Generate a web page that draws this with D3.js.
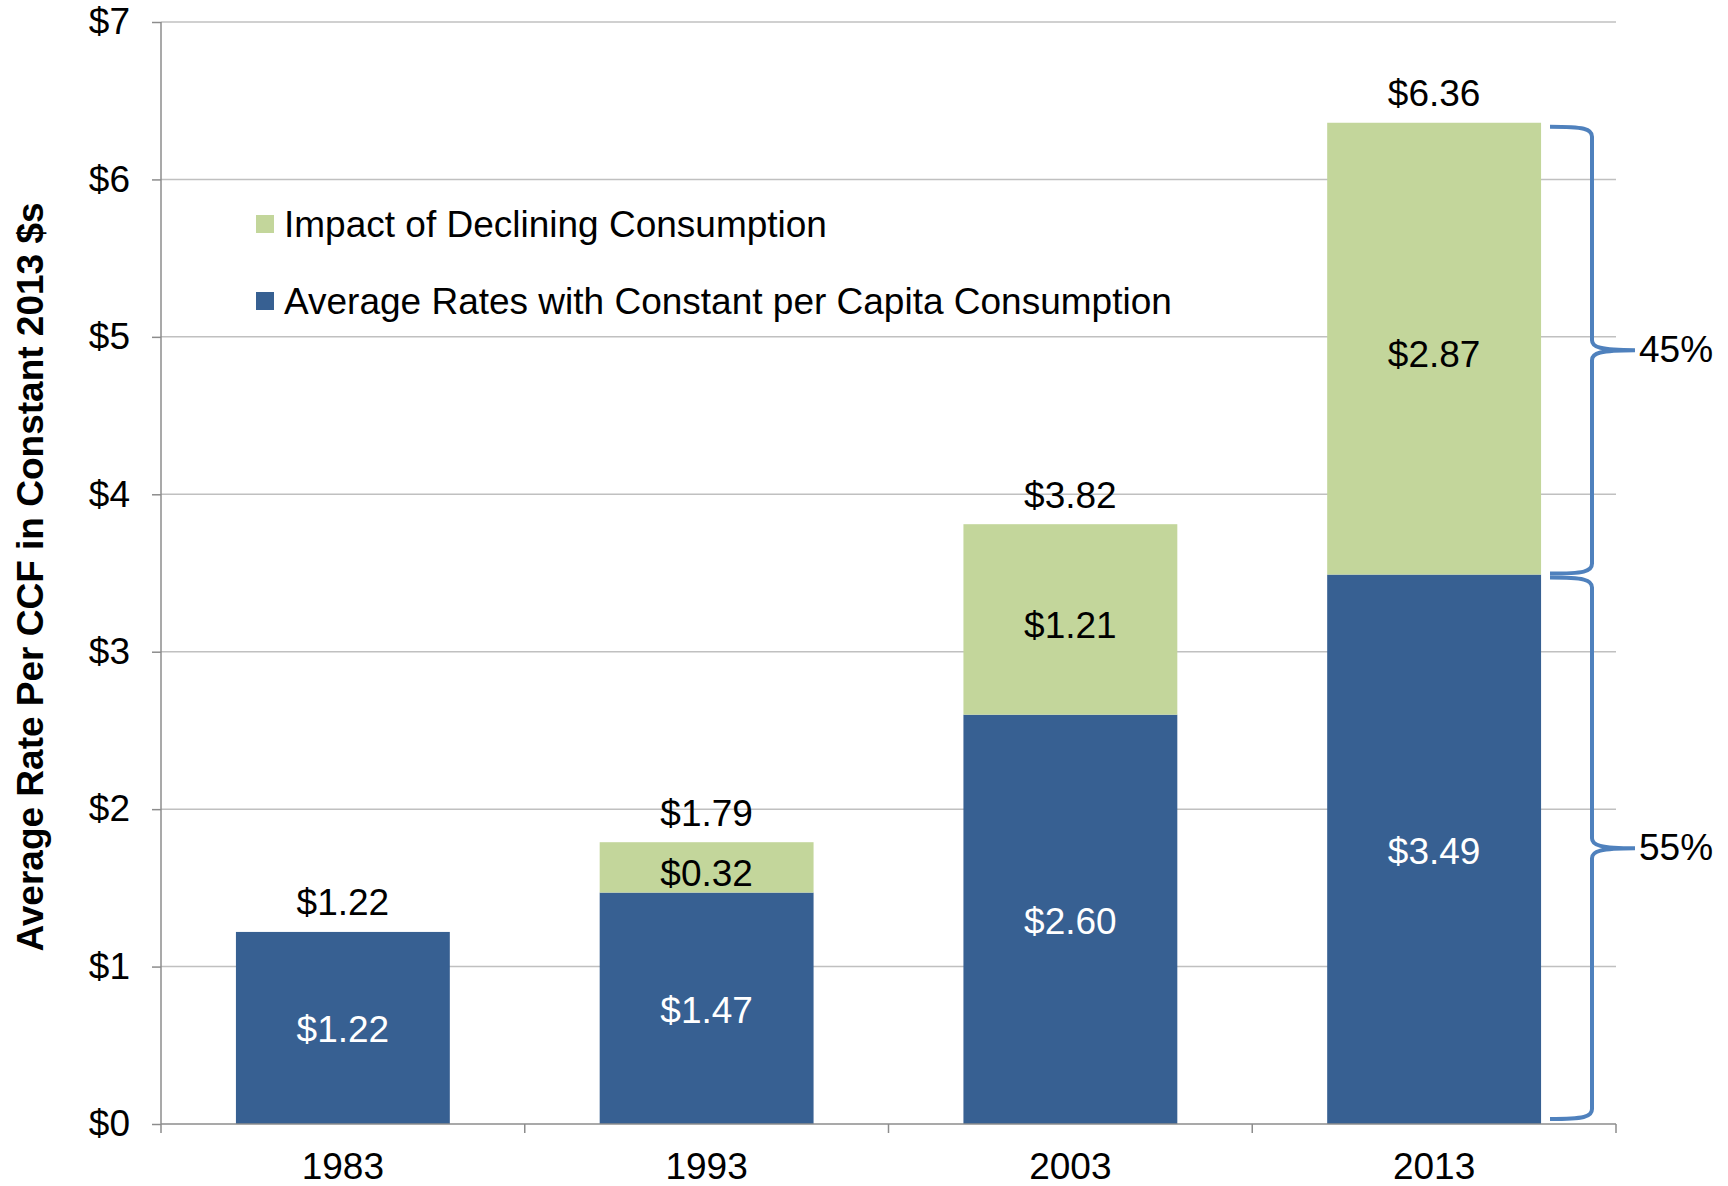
<!DOCTYPE html>
<html><head><meta charset="utf-8">
<script src="https://cdn.jsdelivr.net/npm/d3@7"></script>
<style>
html,body{margin:0;padding:0;background:#fff;}
svg{display:block;font-family:"Liberation Sans",Arial,sans-serif;}
</style></head>
<body><svg id="chart" width="1728" height="1186"></svg>
<script>
const years = ["1983","1993","2003","2013"];
const baseValues = [1.22, 1.47, 2.60, 3.49];      // Average Rates with Constant per Capita Consumption
const declineValues = [0, 0.32, 1.21, 2.87];     // Impact of Declining Consumption
const totalLabels = ["$1.22","$1.79","$3.82","$6.36"];
const baseLabels = ["$1.22","$1.47","$2.60","$3.49"];
const declineLabels = ["","$0.32","$1.21","$2.87"];
const yTicks = [0,1,2,3,4,5,6,7];
const seriesNames = ["Impact of Declining Consumption","Average Rates with Constant per Capita Consumption"];
const shareLabels = ["45%","55%"];
const yTitle = "Average Rate Per CCF in Constant 2013 $s";

const BLUE = "#376092", GREEN = "#C3D69B", BRACE = "#4F81BD";
const FS = 37;
const svg = d3.select("#chart");
const mLeft = 161, mRight = 1616, mTop = 22, mBottom = 1124;

const x = d3.scaleBand().domain(years).range([mLeft, mRight]).paddingInner(0.412).paddingOuter(0.206);
const y = d3.scaleLinear().domain([0, 7]).range([mBottom, mTop]);

// gridlines
svg.append("g").selectAll("line").data(yTicks.filter(d => d > 0)).join("line")
  .attr("x1", mLeft).attr("x2", mRight)
  .attr("y1", d => y(d)).attr("y2", d => y(d))
  .attr("stroke", "#C0C0C0").attr("stroke-width", 1.5);

// y axis
const yAxis = svg.append("g").attr("transform", `translate(${mLeft},0)`)
  .call(d3.axisLeft(y).tickValues(yTicks).tickFormat(d => "$" + d).tickSize(9).tickPadding(22));
yAxis.select(".domain").attr("stroke", "#8C8C8C").attr("stroke-width", 1.5).attr("d", `M0,${mTop}V${mBottom}`);
yAxis.selectAll(".tick line").attr("stroke", "#8C8C8C").attr("stroke-width", 1.5);
yAxis.selectAll("text").attr("font-size", FS).attr("fill", "#000").attr("font-family", "Liberation Sans, Arial, sans-serif");

// bars
const g = svg.append("g");
g.selectAll(".base").data(years).join("rect")
  .attr("x", d => x(d)).attr("width", x.bandwidth())
  .attr("y", (d,i) => y(baseValues[i])).attr("height", (d,i) => y(0) - y(baseValues[i]))
  .attr("fill", BLUE);
g.selectAll(".dec").data(years.filter((d,i) => declineValues[i] > 0)).join("rect")
  .attr("x", d => x(d)).attr("width", x.bandwidth())
  .attr("y", d => { const i = years.indexOf(d); return y(baseValues[i] + declineValues[i]); })
  .attr("height", d => { const i = years.indexOf(d); return y(baseValues[i]) - y(baseValues[i] + declineValues[i]); })
  .attr("fill", GREEN);

// x axis
const xAxisG = svg.append("g");
xAxisG.append("line").attr("x1", mLeft).attr("x2", mRight).attr("y1", mBottom).attr("y2", mBottom)
  .attr("stroke", "#8C8C8C").attr("stroke-width", 1.5);
const bounds = [mLeft].concat(years.map(d => x(d) + x.bandwidth() + x.step()*x.paddingInner()/2));
xAxisG.selectAll(".tk").data(bounds).join("line")
  .attr("x1", d => d).attr("x2", d => d).attr("y1", mBottom).attr("y2", mBottom + 9)
  .attr("stroke", "#8C8C8C").attr("stroke-width", 1.5);
xAxisG.selectAll("text").data(years).join("text")
  .attr("x", d => x(d) + x.bandwidth()/2).attr("y", 1166)
  .attr("text-anchor", "middle").attr("dominant-baseline", "central")
  .attr("font-size", FS).text(d => d);

// labels
const lab = svg.append("g").attr("font-size", FS).attr("text-anchor", "middle").attr("dominant-baseline", "central");
lab.selectAll(".bl").data(years).join("text")
  .attr("x", d => x(d) + x.bandwidth()/2)
  .attr("y", (d,i) => y(baseValues[i]/2) + 2)
  .attr("fill", "#fff").text((d,i) => baseLabels[i]);
lab.selectAll(".gl").data(years.filter((d,i) => declineValues[i] > 0)).join("text")
  .attr("x", d => x(d) + x.bandwidth()/2)
  .attr("y", d => { const i = years.indexOf(d); return y(baseValues[i] + declineValues[i]/2) + 6; })
  .attr("fill", "#000").text(d => declineLabels[years.indexOf(d)]);
lab.selectAll(".tl").data(years).join("text")
  .attr("x", d => x(d) + x.bandwidth()/2)
  .attr("y", (d,i) => y(baseValues[i] + declineValues[i]) - 29)
  .attr("fill", "#000").text((d,i) => totalLabels[i]);

// legend
const leg = svg.append("g");
const legY = [224, 301];
const legColors = [GREEN, BLUE];
seriesNames.forEach((s, i) => {
  leg.append("rect").attr("x", 256).attr("y", legY[i] - 9).attr("width", 18).attr("height", 18).attr("fill", legColors[i]);
  leg.append("text").attr("x", 284).attr("y", legY[i]).attr("dominant-baseline", "central")
    .attr("font-size", FS).text(s);
});

// y title
svg.append("text").attr("transform", `translate(30,${(mTop+mBottom)/2 + 4}) rotate(-90)`)
  .attr("text-anchor", "middle").attr("dominant-baseline", "central")
  .attr("font-size", FS).attr("font-weight", "bold").text(yTitle);

// braces
function brace(y1, y2) {
  const xt = 1550, xs = 1592, xp = 1635, ym = (y1 + y2) / 2, r = 10;
  return `M${xt},${y1} C${xs-8},${y1} ${xs},${y1+2} ${xs},${y1+r}` +
    ` L${xs},${ym-r} C${xs},${ym-3} ${xs+8},${ym} ${xp},${ym}` +
    ` C${xs+8},${ym} ${xs},${ym+3} ${xs},${ym+r}` +
    ` L${xs},${y2-r} C${xs},${y2-2} ${xs-8},${y2} ${xt},${y2}`;
}
const i3 = 3;
const braceRanges = [
  [y(baseValues[i3] + declineValues[i3]) + 4, y(baseValues[i3]) - 1],
  [y(baseValues[i3]) + 3, y(0) - 5]
];
braceRanges.forEach((r, k) => {
  svg.append("path").attr("d", brace(r[0], r[1])).attr("fill", "none")
    .attr("stroke", BRACE).attr("stroke-width", 4);
  svg.append("text").attr("x", 1639).attr("y", (r[0] + r[1]) / 2 - 1)
    .attr("dominant-baseline", "central").attr("font-size", FS).text(shareLabels[k]);
});
</script></body></html>
